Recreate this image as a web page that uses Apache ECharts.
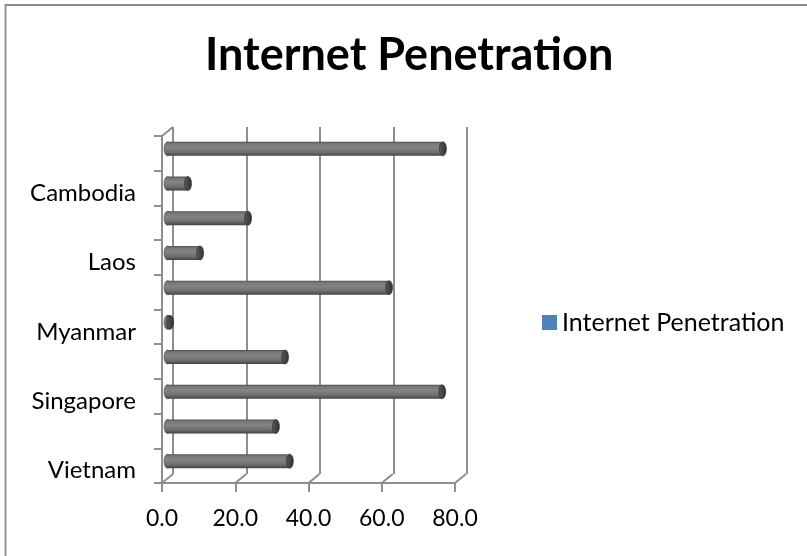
<!DOCTYPE html>
<html>
<head>
<meta charset="utf-8">
<script src="https://cdn.jsdelivr.net/npm/echarts@6/dist/echarts.min.js"></script>
<style>
  html, body { margin: 0; padding: 0; background: #fff; }
  #chart { width: 807px; height: 556px; }
</style>
</head>
<body>
<div id="chart"></div>
<script>
// Categories listed bottom-to-top on the category axis
const countries = ['Vietnam', 'Thailand', 'Singapore', 'Philippines', 'Myanmar',
                   'Malaysia', 'Laos', 'Indonesia', 'Cambodia', 'Brunei'];
// Internet penetration (%)
const penetration = [33.4, 29.6, 75.0, 32.1, 0.7, 60.5, 8.9, 22.0, 5.6, 75.2];
// Value axis ticks
const valueTicks = [0, 20, 40, 60, 80];
const seriesName = 'Internet Penetration';
const titleText = 'Internet Penetration';

// Perspective offset between the front plane and the back wall (px)
const DX = 11, DY = 9;
const FRONT = { left: 162, top: 136, width: 293, height: 347 };
const BACK = { left: FRONT.left + DX, top: FRONT.top - DY, width: 294, height: 347 };

const AXIS_GRAY = '#8e8e8e';
const FONT = 'Lato, "Open Sans", sans-serif';

const chart = echarts.init(document.getElementById('chart'), null, { renderer: 'canvas' });

const bodyFill = new echarts.graphic.LinearGradient(0, 0, 0, 1, [
  { offset: 0, color: '#4a4a4a' },
  { offset: 0.12, color: '#767676' },
  { offset: 0.4, color: '#848484' },
  { offset: 0.75, color: '#6e6e6e' },
  { offset: 1, color: '#424242' }
]);
const capFill = new echarts.graphic.LinearGradient(0, 0, 1, 0, [
  { offset: 0, color: '#5a5a5a' },
  { offset: 1, color: '#303030' }
]);

// Cylinder bar drawn in the middle plane between front and back wall
function renderBar(params, api) {
  const v = api.value(0);
  const idx = api.value(1);
  const p0 = api.coord([0, idx]);
  const p1 = api.coord([v, idx]);
  const h = 14;
  const rx = 3.5;
  const cy = p0[1] - DY / 2;
  const x0 = p0[0] + DX / 2;
  const x1 = p1[0] + DX / 2;
  return {
    type: 'group',
    children: [
      { type: 'ellipse', shape: { cx: x0, cy: cy, rx: rx, ry: h / 2 },
        style: { fill: bodyFill, stroke: '#444', lineWidth: 0.5 } },
      { type: 'rect', shape: { x: x0, y: cy - h / 2, width: Math.max(x1 - x0, 0), height: h },
        style: { fill: bodyFill } },
      { type: 'ellipse', shape: { cx: x1, cy: cy, rx: rx, ry: h / 2 },
        style: { fill: capFill, stroke: '#2e2e2e', lineWidth: 0.6 } }
    ]
  };
}

// Floor edges joining the front axis ticks to the back wall
function renderFloor(params, api) {
  const cs = params.coordSys;
  const v = api.value(0);
  const p = api.coord([v, 0]);
  const yb = cs.y + cs.height;
  const children = [
    { type: 'line', shape: { x1: p[0], y1: yb, x2: p[0] + DX, y2: yb - DY },
      style: { stroke: AXIS_GRAY, lineWidth: 2 } }
  ];
  if (params.dataIndex === 0) {
    children.push({ type: 'line', shape: { x1: cs.x, y1: cs.y, x2: cs.x + DX, y2: cs.y - DY },
      style: { stroke: AXIS_GRAY, lineWidth: 2 } });
  }
  return { type: 'group', children: children };
}

const option = {
  backgroundColor: '#fff',
  animation: false,
  title: {
    text: titleText,
    left: 200,
    top: 28,
    padding: 5,
    textStyle: { fontFamily: FONT, fontSize: 45, fontWeight: 'bold', color: '#000' }
  },
  legend: {
    data: [seriesName],
    left: 537,
    top: 305,
    icon: 'rect',
    itemWidth: 15,
    itemHeight: 15,
    itemGap: 6,
    textStyle: { fontFamily: FONT, fontSize: 25, color: '#000' }
  },
  graphic: [
    { type: 'rect', shape: { x: 5.5, y: 5, width: 1000, height: 1000 },
      style: { fill: 'none', stroke: '#8a8a8a', lineWidth: 1.8 }, silent: true }
  ],
  grid: [
    { left: FRONT.left, top: FRONT.top, width: FRONT.width, height: FRONT.height },
    { left: BACK.left, top: BACK.top, width: BACK.width, height: BACK.height }
  ],
  xAxis: [
    {
      gridIndex: 0, type: 'value', min: 0, max: 80, interval: 20,
      axisLine: { show: true, lineStyle: { color: AXIS_GRAY, width: 2 } },
      axisTick: { show: true, length: 9, lineStyle: { color: AXIS_GRAY, width: 2 } },
      splitLine: { show: false },
      axisLabel: {
        margin: 24, color: '#000', fontFamily: FONT, fontSize: 23,
        formatter: function (v) { return v.toFixed(1); }
      }
    },
    {
      gridIndex: 1, type: 'value', min: 0, max: 80, interval: 20,
      axisLine: { show: false }, axisTick: { show: false }, axisLabel: { show: false },
      splitLine: { show: true, lineStyle: { color: AXIS_GRAY, width: 2 } }
    }
  ],
  yAxis: [
    {
      gridIndex: 0, type: 'category', data: countries,
      axisLine: { show: true, lineStyle: { color: AXIS_GRAY, width: 2 } },
      axisTick: { show: true, interval: 0, length: 8, lineStyle: { color: AXIS_GRAY, width: 2 } },
      axisLabel: {
        interval: 1, margin: 26,
        formatter: '{n|{value}}',
        rich: { n: { color: '#000', fontFamily: FONT, fontSize: 24, padding: [10, 0, 0, 0] } }
      },
      splitLine: { show: false }
    },
    {
      gridIndex: 1, type: 'value', show: false, min: 0, max: 1,
      splitLine: { show: false }
    }
  ],
  series: [
    {
      name: 'floor',
      type: 'custom',
      xAxisIndex: 0, yAxisIndex: 0,
      renderItem: renderFloor,
      data: valueTicks.map(function (t) { return [t]; }),
      encode: { x: 0 },
      silent: true,
      z: 1
    },
    {
      name: seriesName,
      type: 'custom',
      xAxisIndex: 0, yAxisIndex: 0,
      itemStyle: { color: '#4F81BD' },
      renderItem: renderBar,
      data: countries.map(function (c, i) { return [penetration[i], i]; }),
      encode: { x: 0, y: 1 },
      z: 3
    }
  ]
};

chart.setOption(option);
</script>
</body>
</html>
